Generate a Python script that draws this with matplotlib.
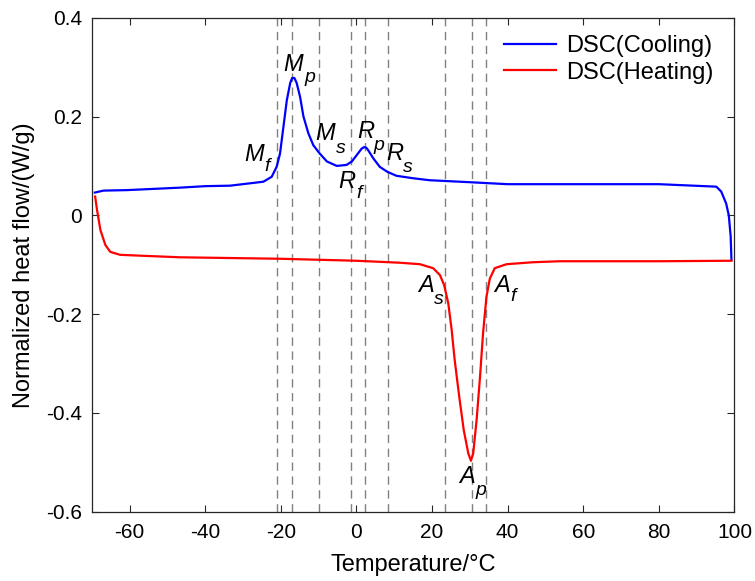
import matplotlib.pyplot as plt

plt.rcParams["font.family"] = ["Liberation Sans", "DejaVu Sans"]

# cooling run (blue), temperature in degC and heat flow in W/g
cool_t = [-69.2, -66.9, -60.7, -46.6, -40.0, -33.4, -24.6, -22.4, -21.1, -20.2,
          -19.3, -18.4, -17.5, -17.0, -16.4, -15.8, -14.9, -14.0, -12.7, -11.4, -9.8,
          -7.8, -5.2, -2.6, -1.2, 0.5, 1.4, 2.0, 2.6, 3.1, 4.5, 6.2, 8.2,
          10.6, 15.0, 19.4, 30.0, 40.0, 60.0, 80.0, 95.2, 96.5, 97.8,
          98.5, 99.0, 99.2]
cool_q = [0.046, 0.050, 0.051, 0.056, 0.059, 0.060, 0.068, 0.078, 0.098, 0.125,
          0.179, 0.233, 0.268, 0.278, 0.278, 0.268, 0.240, 0.200, 0.166, 0.142, 0.126,
          0.109, 0.100, 0.102, 0.109, 0.126, 0.135, 0.138, 0.137, 0.132, 0.115, 0.098, 0.088,
          0.080, 0.075, 0.071, 0.067, 0.063, 0.063, 0.063, 0.058, 0.048, 0.024,
          0.000, -0.043, -0.090]

# heating run (red)
heat_t = [-69.1, -68.6, -67.7, -66.4, -65.1, -62.5, -56.3, -46.6, -20.0, 0.0,
          11.5, 16.8, 20.3, 22.1, 23.2, 24.3, 25.2, 26.0, 27.2, 28.4,
          29.6, 30.3, 30.9, 31.8, 32.7, 33.5, 34.4, 35.3, 36.6, 39.7,
          46.7, 53.8, 80.0, 99.2]
heat_q = [0.038, 0.011, -0.030, -0.060, -0.074, -0.080, -0.082, -0.085, -0.088, -0.092,
          -0.096, -0.099, -0.107, -0.121, -0.141, -0.178, -0.232, -0.293, -0.367, -0.435,
          -0.482, -0.497, -0.482, -0.414, -0.327, -0.239, -0.165, -0.128, -0.107, -0.099,
          -0.095, -0.093, -0.093, -0.092]

# transition temperatures
marks = [-20.9, -16.9, -9.8, -1.5, 2.3, 8.3, 23.5, 30.5, 34.2]

# annotation letters with their subscripts
main_txt = ["M", "M", "M", "R", "R", "R", "A", "A", "A"]
sub_txt = ["f", "p", "s", "p", "s", "f", "s", "f", "p"]
main_xy = [(-27.0, 0.123), (-16.7, 0.306), (-8.3, 0.166), (2.4, 0.170), (10.2, 0.125),
           (-2.6, 0.069), (18.3, -0.143), (38.5, -0.143), (29.4, -0.528)]
sub_xy = [(-23.7, 0.098), (-12.3, 0.279), (-4.2, 0.136), (6.0, 0.142), (13.6, 0.096),
          (0.8, 0.044), (21.8, -0.171), (41.5, -0.164), (32.9, -0.557)]

fig = plt.figure(figsize=(7.55, 5.81), dpi=100)
ax = fig.add_axes([0.1215, 0.1193, 0.8513, 0.8502])

for t in marks:
    ax.axvline(t, color="0.5", linestyle=(0, (6, 4)), linewidth=1.0, zorder=1)

ax.plot(cool_t, cool_q, color="#0000ff", linewidth=1.6, label="DSC(Cooling)", zorder=3)
ax.plot(heat_t, heat_q, color="#ff0000", linewidth=1.6, label="DSC(Heating)", zorder=3)

for m, s, (mx, my), (sx, sy) in zip(main_txt, sub_txt, main_xy, sub_xy):
    ax.text(mx, my, m, fontsize=17, style="italic", ha="center", va="center", zorder=4)
    ax.text(sx, sy, s, fontsize=14, style="italic", ha="center", va="center", zorder=4)

ax.set_xlim(-70, 100)
ax.set_ylim(-0.6, 0.4)
ax.set_xticks([-60, -40, -20, 0, 20, 40, 60, 80, 100])
ax.set_yticks([-0.6, -0.4, -0.2, 0, 0.2, 0.4])
ax.set_yticklabels(["-0.6", "-0.4", "-0.2", "0", "0.2", "0.4"])
ax.set_xticklabels(["-60", "-40", "-20", "0", "20", "40", "60", "80", "100"])
ax.tick_params(direction="in", length=5, width=0.8, top=True, right=True,
               labelsize=15, colors="0.15", labelcolor="black")
ax.tick_params(axis="x", pad=8)
ax.tick_params(axis="y", pad=7)
for sp in ax.spines.values():
    sp.set_color("0.15")
    sp.set_linewidth(0.9)

ax.set_xlabel("Temperature/°C", fontsize=17, labelpad=9)
ax.set_ylabel("Normalized heat flow/(W/g)", fontsize=17, labelpad=8)

ax.legend(loc="upper right", frameon=False, fontsize=17, handlelength=2.2,
          handletextpad=0.45, labelspacing=0.2, borderpad=0, borderaxespad=0,
          bbox_to_anchor=(0.968, 0.965))

fig.savefig("out.png", dpi=100)
